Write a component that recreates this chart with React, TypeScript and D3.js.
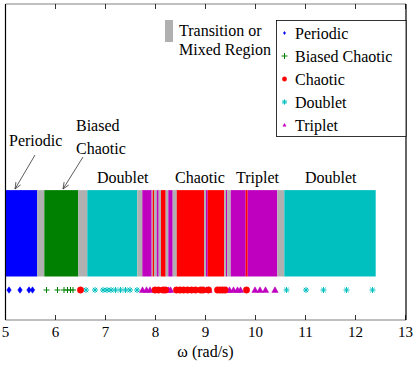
import React from 'react';
import * as d3 from 'd3';

const W = 415;
const H = 365;

const xTicks = [5, 6, 7, 8, 9, 10, 11, 12, 13];
const xLabel = 'ω (rad/s)';

// regime bands: start ω, end ω, regime
const bandStart = [5.0, 5.636, 5.776, 6.456, 6.636, 7.636, 7.736, 7.924, 7.944, 7.97, 8.024, 8.064, 8.11, 8.204, 8.256, 8.344, 8.424, 8.97, 9.01, 9.044, 9.376, 9.41, 9.436, 9.504, 9.804, 9.844, 10.436, 10.576];
const bandEnd = [5.636, 5.776, 6.456, 6.636, 7.636, 7.736, 7.924, 7.944, 7.97, 8.024, 8.064, 8.11, 8.204, 8.256, 8.344, 8.424, 8.97, 9.01, 9.044, 9.376, 9.41, 9.436, 9.504, 9.804, 9.844, 10.436, 10.576, 12.404];
const bandType = ['P', 'X', 'B', 'X', 'D', 'X', 'T', 'X', 'C', 'X', 'T', 'X', 'C', 'X', 'T', 'X', 'C', 'X', 'T', 'C', 'X', 'T', 'X', 'T', 'C', 'T', 'X', 'D'];

// sampled frequencies per regime
const periodicW = [5.07, 5.29, 5.47, 5.54];
const biasedW = [5.82, 6.04, 6.17, 6.24, 6.30, 6.35];
const chaoticW = [6.5, 7.99, 8.06, 8.15, 8.2, 8.42, 8.49, 8.56, 8.64, 8.72, 8.8, 8.9, 8.95, 9.06, 9.24, 9.29, 9.34, 9.39, 9.82];
const doubletW = [6.61, 6.79, 6.95, 7.03, 7.11, 7.2, 7.3, 7.4, 7.49, 7.63, 10.62, 11.01, 11.36, 11.82, 12.34];
const tripletW = [7.74, 7.82, 7.89, 8.26, 8.3, 9.02, 9.07, 9.42, 9.48, 9.56, 9.64, 9.7, 9.99, 10.09, 10.2, 10.39];

const legendNames = ['Periodic', 'Biased Chaotic', 'Chaotic', 'Doublet', 'Triplet'];

const colors: Record<string, string> = {
  P: '#0000ff',
  B: '#008000',
  C: '#ff0000',
  D: '#00bfbf',
  T: '#bf00bf',
  X: '#b0b0b0',
};

const FONT = "'Liberation Serif', 'Times New Roman', Times, serif";

const x = d3.scaleLinear().domain([5, 13]).range([5.5, 405.5]);
const y = d3.scaleLinear().domain([0, 1]).range([320, 4]);

const BAND_LO = 0.1377;
const BAND_HI = 0.411;
const MARK_Y = 0.0949;

function marker(kind: string, cx: number, cy: number, s: number, key: string | number) {
  const c = colors[kind];
  if (kind === 'P') {
    const p = `M${cx},${cy - s}L${cx + s * 0.7},${cy}L${cx},${cy + s}L${cx - s * 0.7},${cy}Z`;
    return <path key={key} d={p} fill={c} stroke={c} strokeWidth={0.5} />;
  }
  if (kind === 'B') {
    return (
      <path key={key} d={`M${cx - s},${cy}H${cx + s}M${cx},${cy - s}V${cy + s}`} stroke={c} strokeWidth={1} fill="none" />
    );
  }
  if (kind === 'C') {
    return <circle key={key} cx={cx} cy={cy} r={s} fill={c} stroke={c} strokeWidth={0.5} />;
  }
  if (kind === 'D') {
    const d = s * 0.72;
    return (
      <path
        key={key}
        d={`M${cx - s},${cy}H${cx + s}M${cx},${cy - s}V${cy + s}M${cx - d},${cy - d}L${cx + d},${cy + d}M${cx - d},${cy + d}L${cx + d},${cy - d}`}
        stroke={c}
        strokeWidth={1}
        fill="none"
      />
    );
  }
  const p = `M${cx},${cy - s}L${cx + s},${cy + s * 0.75}L${cx - s},${cy + s * 0.75}Z`;
  return <path key={key} d={p} fill={c} stroke={c} strokeWidth={0.5} />;
}

function Arrow({ x1, y1, x2, y2 }: { x1: number; y1: number; x2: number; y2: number }) {
  const a = Math.atan2(y2 - y1, x2 - x1);
  const L = 7;
  const sp = 0.4;
  const ax = x2 - L * Math.cos(a - sp);
  const ay = y2 - L * Math.sin(a - sp);
  const bx = x2 - L * Math.cos(a + sp);
  const by = y2 - L * Math.sin(a + sp);
  return (
    <g stroke="#333" strokeWidth={0.8} fill="none">
      <line x1={x1} y1={y1} x2={x2} y2={y2} />
      <path d={`M${ax},${ay}L${x2},${y2}L${bx},${by}`} />
    </g>
  );
}

function T({ x: tx, y: ty, size, anchor, children }: { x: number; y: number; size: number; anchor?: string; children: React.ReactNode }) {
  return (
    <text x={tx} y={ty} fill="#000" textAnchor={anchor || 'start'} style={{ fontFamily: FONT, fontSize: size }}>
      {children}
    </text>
  );
}

export default function App() {
  const markerSets: [string, number[], number][] = [
    ['P', periodicW, 3.2],
    ['B', biasedW, 3],
    ['D', doubletW, 3],
    ['T', tripletW, 3.2],
    ['C', chaoticW, 3.2],
  ];
  const legendKinds = ['P', 'B', 'C', 'D', 'T'];
  const legendSizes = [1.6, 3, 2.2, 2.6, 1.6];
  return (
    <svg width={W} height={H} style={{ position: 'absolute', left: 0, top: 0, background: '#fff' }}>
      <rect x={0} y={0} width={W} height={H} fill="#fff" />
      {bandStart.map((s, i) => (
        <rect
          key={i}
          x={x(s)}
          y={y(BAND_HI)}
          width={x(bandEnd[i]) - x(s)}
          height={y(BAND_LO) - y(BAND_HI)}
          fill={colors[bandType[i]]}
        />
      ))}
      {markerSets.map(([k, arr, s]) => (
        <g key={k}>{arr.map((w, i) => marker(k, x(w), y(MARK_Y), s, i))}</g>
      ))}
      <line x1={5.5} y1={4} x2={406} y2={4} stroke="#808080" strokeWidth={1} />
      <line x1={5.5} y1={320} x2={406} y2={320} stroke="#808080" strokeWidth={1} />
      <line x1={5.5} y1={4} x2={5.5} y2={320} stroke="#000" strokeWidth={1.2} />
      <line x1={406} y1={4} x2={406} y2={320} stroke="#000" strokeWidth={1.2} />
      {xTicks.map((t) => (
        <g key={t}>
          <line x1={x(t)} y1={320} x2={x(t)} y2={315} stroke="#000" strokeWidth={0.8} />
          <line x1={x(t)} y1={4} x2={x(t)} y2={9} stroke="#000" strokeWidth={0.8} />
          <T x={x(t)} y={337} size={15} anchor="middle">{t}</T>
        </g>
      ))}
      <T x={x(9)} y={357} size={16} anchor="middle">{xLabel}</T>
      <rect x={165} y={20} width={8} height={22} fill={colors.X} />
      <T x={179} y={36} size={16}>Transition or</T>
      <T x={179} y={55} size={16}>Mixed Region</T>
      <rect x={276.5} y={20.5} width={129.5} height={116} fill="#fff" stroke="#000" strokeWidth={0.8} />
      {legendNames.map((n, i) => (
        <g key={n}>
          {marker(legendKinds[i], 284.5, 33 + i * 23, legendSizes[i], 'lm' + i)}
          <T x={295} y={38.5 + i * 23} size={16}>{n}</T>
        </g>
      ))}
      <T x={9} y={146} size={16}>Periodic</T>
      <T x={76} y={131} size={16}>Biased</T>
      <T x={76} y={154} size={16}>Chaotic</T>
      <T x={97} y={183} size={16}>Doublet</T>
      <T x={175} y={183} size={16}>Chaotic</T>
      <T x={236} y={183} size={16}>Triplet</T>
      <T x={305} y={183} size={16}>Doublet</T>
      <Arrow x1={35} y1={155} x2={15} y2={189} />
      <Arrow x1={83} y1={157} x2={63} y2={189} />
    </svg>
  );
}
